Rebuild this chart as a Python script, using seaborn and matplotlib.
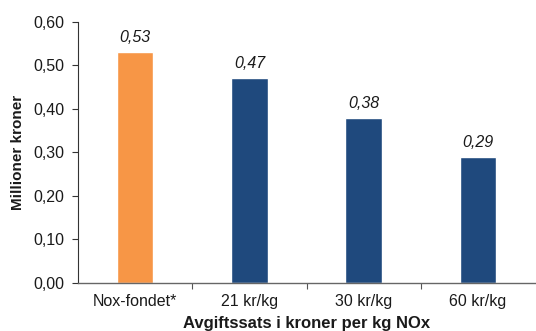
import matplotlib
matplotlib.use("Agg")
import matplotlib.pyplot as plt
from matplotlib.ticker import FixedLocator, FuncFormatter
import seaborn as sns
import pandas as pd

categories = ["Nox-fondet*", "21 kr/kg", "30 kr/kg", "60 kr/kg"]
values = [0.53, 0.47, 0.38, 0.29]
bar_colors = ["#F79646", "#1F497D", "#1F497D", "#1F497D"]
y_ticks = [0.0, 0.1, 0.2, 0.3, 0.4, 0.5, 0.6]

sns.set_theme(style="white")
plt.rcParams["font.family"] = ["Liberation Sans", "DejaVu Sans"]

df = pd.DataFrame({"kategori": categories, "verdi": values})

fig = plt.figure(figsize=(5.36, 3.31), dpi=100)
ax = fig.add_axes([0.1455, 0.145, 0.853, 0.789])

sns.barplot(data=df, x="kategori", y="verdi", hue="kategori",
            palette=bar_colors, width=0.32, legend=False, ax=ax,
            saturation=1)

for p, v in zip(ax.patches, values):
    ax.annotate(f"{v:.2f}".replace(".", ","),
                (p.get_x() + p.get_width() / 2, v),
                xytext=(0, 5), textcoords="offset points",
                ha="center", va="bottom", fontsize=11.5, style="italic",
                color="#1a1a1a")

ax.set_xlim(-0.5, len(categories) - 0.5)
ax.set_ylim(0, 0.6)
ax.set_yticks(y_ticks)
ax.yaxis.set_major_formatter(FuncFormatter(lambda v, _: f"{v:.2f}".replace(".", ",")))

# category separators on the x axis
ax.xaxis.set_minor_locator(FixedLocator([0.5, 1.5, 2.5]))
ax.tick_params(axis="x", which="major", length=0, pad=8, labelsize=11.5, colors="#1a1a1a")
ax.tick_params(axis="x", which="minor", length=4, width=0.8, color="#555555", bottom=True)
ax.tick_params(axis="y", which="major", length=4, width=0.8, color="#333333",
               left=True, labelsize=11.5, labelcolor="#1a1a1a", pad=6)

for side in ["top", "right"]:
    ax.spines[side].set_visible(False)
ax.spines["left"].set_color("#333333")
ax.spines["left"].set_linewidth(0.8)
ax.spines["bottom"].set_color("#666666")
ax.spines["bottom"].set_linewidth(1.0)

ax.set_xlabel("Avgiftssats i kroner per kg NOx", fontsize=12, fontweight="bold",
              labelpad=5, color="#1a1a1a")
ax.set_ylabel("Millioner kroner", fontsize=11, fontweight="bold",
              labelpad=6, color="#1a1a1a")

fig.savefig("out.png", dpi=100)
